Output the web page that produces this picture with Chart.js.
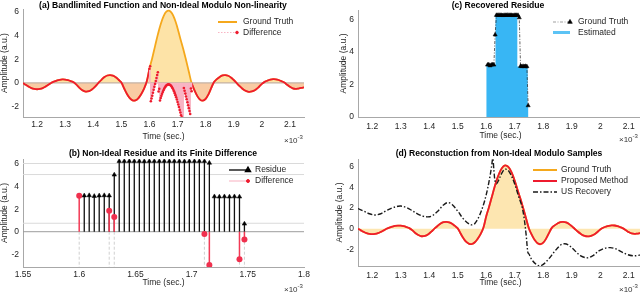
<!DOCTYPE html>
<html>
<head>
<meta charset="utf-8">
<script src="https://cdn.jsdelivr.net/npm/chart.js@4.4.0/dist/chart.umd.min.js"></script>
<style>
html, body { margin: 0; padding: 0; background: #fff; width: 640px; height: 293px; overflow: hidden; }
canvas { position: absolute; }
.ttl { position: absolute; font: bold 8.6px "Liberation Sans", Arial, sans-serif; color: #000; white-space: nowrap; transform: translate(-50%, -50%); }
.exp { position: absolute; font: 8px "Liberation Sans", Arial, sans-serif; color: #333; white-space: nowrap; }
.exp sup { font-size: 6px; }
</style>
</head>
<body>
<canvas id="chA" width="320" height="146" style="left:0;top:0"></canvas>
<canvas id="chB" width="320" height="147" style="left:0;top:146px"></canvas>
<canvas id="chC" width="330" height="146" style="left:320px;top:0"></canvas>
<canvas id="chD" width="330" height="147" style="left:320px;top:146px"></canvas>
<div class="ttl" style="left:163px;top:5px">(a) Bandlimited Function and Non-Ideal Modulo Non-linearity</div>
<div class="ttl" style="left:163px;top:153px">(b) Non-Ideal Residue and its Finite Difference</div>
<div class="ttl" style="left:498px;top:5px">(c) Recovered Residue</div>
<div class="ttl" style="left:499px;top:153px">(d) Reconstuction from Non-Ideal Modulo Samples</div>
<div class="exp" style="left:284px;top:134px">&times;10<sup>-3</sup></div>
<div class="exp" style="left:284px;top:283px">&times;10<sup>-3</sup></div>
<div class="exp" style="left:619px;top:133px">&times;10<sup>-3</sup></div>
<div class="exp" style="left:619px;top:283px">&times;10<sup>-3</sup></div>
<script>
// time in units of 1e-3 s
// ground truth bandlimited signal, sampled every 0.01 from 1.15 to 2.15
const gStart = 1.15, gStep = 0.01;
const gValues = [0, -0.16, -0.31, -0.43, -0.50, -0.53, -0.50, -0.43, -0.31, -0.16, 0,
  0.11, 0.20, 0.27, 0.30, 0.29, 0.24, 0.16, 0.06,
  -0.14, -0.39, -0.59, -0.71, -0.72, -0.64, -0.46, -0.22,
  0.05, 0.29, 0.50, 0.63, 0.67, 0.62, 0.48, 0.27, 0.03,
  -0.47, -0.93, -1.28, -1.47, -1.48, -1.31, -0.97, -0.52, 0.1,
  1.2, 2.12, 3.12, 4.11, 4.97, 5.63, 6.03, 6.12, 5.90, 5.39, 4.64, 3.75, 2.9, 1.96, 0.97, 0.0,
  -0.60, -1.09, -1.41, -1.50, -1.34, -0.96, -0.42,
  0.08, 0.32, 0.51, 0.64, 0.67, 0.61, 0.46, 0.25, 0,
  -0.25, -0.47, -0.64, -0.73, -0.74, -0.67, -0.53, -0.32, -0.08,
  0.09, 0.20, 0.28, 0.32, 0.31, 0.25, 0.15, 0.03,
  -0.15, -0.33, -0.46, -0.50, -0.47, -0.42, -0.38];
const foldStart = 1.60, foldEnd = 1.75;

// modulo output minus ground truth region, sampled every 0.0025 from 1.6
const diffStart = 1.6, diffStep = 0.0025;
const diffValues = [1.2, 1.42, -1.55, -1.32, -1.08, -0.83, -0.58, -0.33, -0.08, 0.17, 0.42, 0.67, 0.91,
  -0.72, -0.50, -1.48, -1.28, -1.09, -0.92, -0.76, -0.62, -0.49, -0.38, -0.29, -0.22, -0.17, -0.13,
  -0.12, -0.13, -0.15, -0.20, -0.26, -0.35, -0.45, -0.57, -0.71, -0.86, -1.03, -1.21, -1.40, -1.61,
  -1.82, -2.04, -2.28, -2.50, -2.73, -2.90, -2.98, -3.20, -0.43, -0.66, -0.90, -1.14, -1.38, -1.63,
  -1.88, -2.13, -2.38, -2.63, -0.47, -0.70];

// residue samples
const resTime = [1.6045, 1.6089, 1.6134, 1.6178, 1.6223, 1.6267, 1.6312, 1.6356, 1.6401, 1.6446, 1.6490,
  1.6535, 1.6579, 1.6624, 1.6668, 1.6713, 1.6757, 1.6802, 1.6846, 1.6891, 1.6936, 1.6980, 1.7025,
  1.7069, 1.7114, 1.7158, 1.7203, 1.7247, 1.7292, 1.7337, 1.7381, 1.7426, 1.7470];
const resValue = [3.2, 3.22, 3.15, 3.2, 3.22, 3.2, 5.05,
  6.25, 6.25, 6.26, 6.25, 6.25, 6.24, 6.25, 6.25, 6.25, 6.26, 6.25, 6.25, 6.25, 6.24, 6.25, 6.25, 6.25, 6.25,
  6.1, 3.12, 3.1, 3.12, 3.1, 3.12, 3.1, 0.7];
const jumpTime = [1.6000, 1.6267, 1.6312, 1.7114, 1.7158, 1.7426, 1.7470];
const jumpValue = [3.2, 1.85, 1.3, -0.2, -2.95, -2.45, -0.7];
const levels = [6.05, 5.07, 0.75];

// estimated residue (stairs)
const estTime = [1.6, 1.6325, 1.709, 1.7455, 1.748];
const estValue = [3.2, 6.3, 3.1, 0.7, 0];

// unlimited sampling recovery
const usTime = [1.15, 1.17, 1.19, 1.21, 1.23, 1.25, 1.27, 1.29, 1.30, 1.32, 1.34, 1.36, 1.38, 1.395, 1.41, 1.43,
  1.45, 1.465, 1.48, 1.50, 1.52, 1.54, 1.55, 1.56, 1.575, 1.59, 1.60, 1.61, 1.618, 1.623, 1.627, 1.631,
  1.636, 1.645, 1.655, 1.665, 1.675, 1.685, 1.695, 1.705, 1.715, 1.725, 1.733, 1.74, 1.746, 1.75, 1.76,
  1.775, 1.787, 1.80, 1.82, 1.84, 1.86, 1.875, 1.89, 1.91, 1.93, 1.955, 1.975, 1.995, 2.015, 2.035, 2.055,
  2.075, 2.095, 2.115, 2.13, 2.15];
const usValue = [1.95, 1.7, 1.45, 1.33, 1.45, 1.75, 2.02, 2.17, 2.2, 2.05, 1.75, 1.42, 1.2, 1.15, 1.25, 1.7,
  2.3, 2.53, 2.35, 1.7, 0.95, 0.45, 0.37, 0.5, 1.2, 2.3, 3.3, 4.6, 5.9, 6.8, 5.6, 4.6,
  4.35, 4.8, 5.4, 5.75, 5.7, 5.3, 4.7, 3.9, 3.0, 2.2, 1.0, -0.6, -2.3, -2.45, -3.0,
  -3.45, -3.6, -3.45, -2.9, -2.2, -1.6, -1.45, -1.6, -2.1, -2.6, -2.82, -2.6, -2.15, -1.9, -1.83, -1.95,
  -2.25, -2.5, -2.62, -2.6, -2.5];

const xTicksWide = [1.2, 1.3, 1.4, 1.5, 1.6, 1.7, 1.8, 1.9, 2, 2.1];
const xTicksZoom = [1.55, 1.6, 1.65, 1.7, 1.75, 1.8];
const yTicksA = [-2, 0, 2, 4, 6];
const yTicksC = [0, 2, 4, 6];

const ORANGE = '#F5A81C', RED = '#EE1B2E', PINK = '#F8B5C4', BLUE = '#38B6F4';
const FONT = '"Liberation Sans", Arial, sans-serif';
Chart.defaults.font.family = FONT;
Chart.defaults.color = '#262626';

const gPts = gValues.map((v, i) => ({ x: +(gStart + i * gStep).toFixed(4), y: v }));
const redPts = gPts.map(p => ({ x: p.x, y: (p.x > foldStart && p.x < foldEnd) ? null : p.y }));
const diffPts = diffValues.map((v, i) => ({ x: +(diffStart + i * diffStep).toFixed(4), y: v }));

function stems(xs, ys, base) {
  const out = [];
  xs.forEach((x, i) => { out.push({ x: x, y: base }, { x: x, y: ys[i] }, { x: x, y: null }); });
  return out;
}
function pts(xs, ys) { return xs.map((x, i) => ({ x: x, y: ys[i] })); }

const boxLegend = {
  id: 'boxLegend',
  afterDraw(chart, args, opts) {
    const ctx = chart.ctx;
    ctx.save();
    ctx.font = '8.5px ' + FONT;
    ctx.textBaseline = 'middle';
    opts.items.forEach((it, i) => {
      const y = opts.y + i * opts.row;
      ctx.strokeStyle = it.color;
      ctx.lineWidth = it.width;
      ctx.setLineDash(it.dash || []);
      ctx.beginPath(); ctx.moveTo(opts.x, y); ctx.lineTo(opts.x + opts.len, y); ctx.stroke();
      ctx.setLineDash([]);
      if (it.marker) {
        ctx.fillStyle = it.marker.color; ctx.strokeStyle = it.marker.color;
        Chart.helpers.drawPoint(ctx, { pointStyle: it.marker.style, radius: it.marker.r, rotation: 0, borderWidth: 1 }, opts.x + opts.len, y);
      }
      ctx.fillStyle = '#262626';
      ctx.fillText(it.label, opts.x + opts.len + opts.gap, y);
    });
    ctx.restore();
  }
};

function axes(o) {
  return {
    x: {
      type: 'linear', min: o.xMin, max: o.xMax,
      grid: { display: false, drawTicks: false },
      border: { display: true, color: '#a8a8a8' },
      afterBuildTicks: s => { s.ticks = o.xTicks.map(v => ({ value: v })); },
      afterFit: s => { s.height = o.xH; },
      ticks: { padding: o.xPad, font: { size: 8.5 }, maxRotation: 0, autoSkip: false, callback: v => String(+v.toFixed(2)) },
      title: { display: true, text: 'Time (sec.)', font: { size: 8.5 }, padding: { top: 0, bottom: o.xTitlePad } }
    },
    y: {
      type: 'linear', min: o.yMin, max: o.yMax,
      grid: { display: false, drawTicks: false },
      border: { display: true, color: '#a8a8a8' },
      afterBuildTicks: s => { s.ticks = o.yTicks.map(v => ({ value: v })); },
      afterFit: s => { s.width = o.yW; },
      ticks: { padding: 4, font: { size: 8.5 }, callback: v => String(v) },
      title: { display: true, text: 'Amplitude (a.u.)', font: { size: 8.5 }, padding: { top: o.yTitlePad, bottom: 0 } }
    }
  };
}

function baseOpts(o, legend) {
  return {
    responsive: false, animation: false,
    layout: { padding: { left: 0, top: o.top, right: o.right, bottom: 0 } },
    elements: { point: { radius: 0 }, line: { borderCapStyle: 'butt' } },
    plugins: { legend: { display: false }, tooltip: { enabled: false }, boxLegend: legend },
    scales: axes(o)
  };
}

// (a)
new Chart(document.getElementById('chA'), {
  type: 'scatter',
  data: { datasets: [
    { data: diffPts, showLine: false, pointRadius: 1.3, pointBackgroundColor: RED, pointBorderWidth: 0 },
    { data: stems(diffPts.map(p => p.x), diffPts.map(p => p.y), 0), showLine: true, borderColor: PINK, borderWidth: 1 },
    { data: redPts, showLine: true, borderColor: RED, borderWidth: 1.8, tension: 0.4 },
    { data: [{ x: 1.15, y: 0 }, { x: 2.15, y: 0 }], showLine: true, borderColor: '#C4B2A4', borderWidth: 1.2 },
    { data: gPts, showLine: true, borderColor: ORANGE, borderWidth: 1.8, tension: 0.4,
      fill: { target: 'origin', above: '#FDE3A7', below: '#F9CBA3' } }
  ] },
  options: baseOpts({ xMin: 1.15, xMax: 2.15, xTicks: xTicksWide, yMin: -2.88, yMax: 6.25, yTicks: yTicksA,
    top: 8, right: 16, xH: 29, yW: 23, xPad: 3, xTitlePad: 4, yTitlePad: 0 },
    { x: 218, y: 22, row: 10.5, len: 19, gap: 6, items: [
      { label: 'Ground Truth', color: ORANGE, width: 2 },
      { label: 'Difference', color: PINK, width: 1, dash: [1.5, 1.5], marker: { style: 'circle', r: 1.3, color: RED } }
    ] }),
  plugins: [boxLegend]
});

// (b)
new Chart(document.getElementById('chB'), {
  type: 'scatter',
  data: { datasets: [
    { data: pts(jumpTime, jumpValue), showLine: false, pointStyle: 'circle', pointRadius: 3, pointBackgroundColor: '#F0304E', pointBorderWidth: 0 },
    { data: stems(jumpTime, jumpValue, 0), showLine: true, borderColor: '#F23A55', borderWidth: 1.5 },
    { data: pts(resTime, resValue), showLine: false, pointStyle: 'triangle', pointRadius: 2.6, pointBackgroundColor: '#000', pointBorderColor: '#000', pointBorderWidth: 0.5 },
    { data: stems(resTime, resValue, 0), showLine: true, borderColor: '#111', borderWidth: 1.3 },
    { data: stems(jumpTime, jumpTime.map(() => -3.13), 0), showLine: true, borderColor: '#c4c4c4', borderWidth: 0.8, borderDash: [3, 2] },
    ...levels.map(v => ({ data: [{ x: 1.55, y: v }, { x: 1.8, y: v }], showLine: true, borderColor: '#dadada', borderWidth: 1 })),
    { data: [{ x: 1.55, y: 0 }, { x: 1.8, y: 0 }], showLine: true, borderColor: '#9c9c9c', borderWidth: 1 }
  ] },
  options: baseOpts({ xMin: 1.55, xMax: 1.8, xTicks: xTicksZoom, yMin: -3.13, yMax: 6.45, yTicks: yTicksA,
    top: 13, right: 16, xH: 26, yW: 23, xPad: 3, xTitlePad: 5, yTitlePad: 0 },
    { x: 229, y: 24, row: 11, len: 19, gap: 7, items: [
      { label: 'Residue', color: '#000', width: 1.3, marker: { style: 'triangle', r: 3, color: '#000' } },
      { label: 'Difference', color: '#F8AFBF', width: 1, marker: { style: 'circle', r: 1.5, color: RED } }
    ] }),
  plugins: [boxLegend]
});

// (c)
new Chart(document.getElementById('chC'), {
  type: 'scatter',
  data: { datasets: [
    { data: pts(resTime, resValue), showLine: false, pointStyle: 'triangle', pointRadius: 2.4, pointBackgroundColor: '#000', pointBorderColor: '#000', pointBorderWidth: 0.5 },
    { data: pts(resTime, resValue), showLine: true, borderColor: '#222', borderWidth: 0.7, borderDash: [3, 1.5, 1, 1.5] },
    { data: pts(estTime, estValue), showLine: true, stepped: true, borderColor: BLUE, borderWidth: 0, backgroundColor: BLUE, fill: 'origin' }
  ] },
  options: baseOpts({ xMin: 1.15, xMax: 2.15, xTicks: xTicksWide, yMin: 0, yMax: 6.57, yTicks: yTicksC,
    top: 10, right: 7, xH: 29, yW: 38, xPad: 5, xTitlePad: 5, yTitlePad: 18.4 },
    { x: 233, y: 22, row: 10.5, len: 17, gap: 8, items: [
      { label: 'Ground Truth', color: '#777', width: 0.7, dash: [3, 1.5, 1, 1.5], marker: { style: 'triangle', r: 2.6, color: '#000' } },
      { label: 'Estimated', color: '#5CC3F5', width: 3 }
    ] }),
  plugins: [boxLegend]
});

// (d)
new Chart(document.getElementById('chD'), {
  type: 'scatter',
  data: { datasets: [
    { data: pts(usTime, usValue), showLine: true, borderColor: '#1a1a1a', borderWidth: 1.4, borderDash: [5, 2, 1.5, 2], tension: 0.35 },
    { data: gPts, showLine: true, borderColor: RED, borderWidth: 1.8, tension: 0.4 },
    { data: gPts, showLine: true, borderColor: ORANGE, borderWidth: 1.8, tension: 0.4, fill: { target: 'origin', above: '#FDE6B1', below: '#FDE6B1' } }
  ] },
  options: baseOpts({ xMin: 1.15, xMax: 2.15, xTicks: xTicksWide, yMin: -3.61, yMax: 6.75, yTicks: yTicksA,
    top: 13, right: 7, xH: 27, yW: 38, xPad: 5, xTitlePad: 5, yTitlePad: 14.4 },
    { x: 213, y: 24, row: 11, len: 24, gap: 4, items: [
      { label: 'Ground Truth', color: ORANGE, width: 2 },
      { label: 'Proposed Method', color: RED, width: 2 },
      { label: 'US Recovery', color: '#1a1a1a', width: 1.4, dash: [5, 2, 1.5, 2] }
    ] }),
  plugins: [boxLegend]
});
</script>
</body>
</html>
